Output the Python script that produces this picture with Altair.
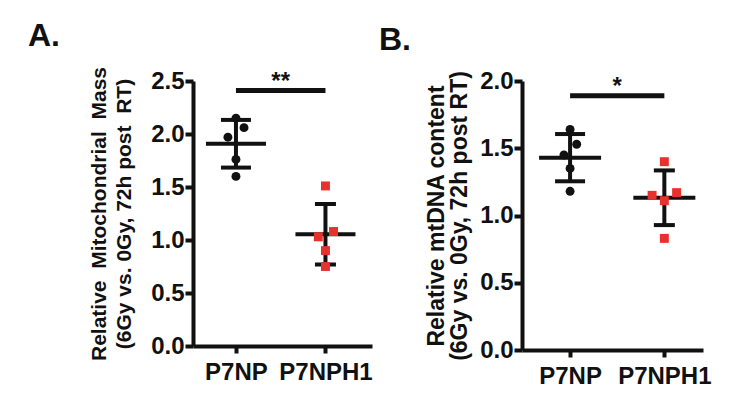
import altair as alt
import pandas as pd

groups = ["P7NP", "P7NPH1"]
group_idx = [1, 2]

# Panel A: relative mitochondrial mass
a_np = [2.15, 2.06, 1.97, 1.76, 1.60]
a_nph1 = [1.51, 1.03, 1.08, 0.90, 0.75]
a_np_jit = [0.0, 0.09, -0.09, 0.0, 0.0]
a_nph1_jit = [0.0, -0.08, 0.09, 0.0, 0.0]

# Panel B: relative mtDNA content
b_np = [1.64, 1.53, 1.45, 1.35, 1.18]
b_nph1 = [1.40, 1.15, 1.17, 1.11, 0.83]
b_np_jit = [0.0, 0.07, -0.065, 0.0, 0.0]
b_nph1_jit = [0.0, -0.13, 0.13, 0.0, 0.0]

a_sig = {"y": 2.41, "label": "**"}
b_sig = {"y": 1.89, "label": "*"}

FONT = "Liberation Sans"
BLACK = "#111111"
RED = "#e8302c"


def make_df(v1, v2, j1, j2):
    rows = []
    for v, j in zip(v1, j1):
        rows.append({"grp": groups[0], "g": group_idx[0], "v": v, "jit": j})
    for v, j in zip(v2, j2):
        rows.append({"grp": groups[1], "g": group_idx[1], "v": v, "jit": j})
    return pd.DataFrame(rows)


def panel(df, ymax, ytitle, xdomain, height, width, sig, letter, letter_x, letter_y,
          cap_sizes, mean_size, title_size, title_pad, title_lh):
    xscale = alt.Scale(domain=xdomain, nice=False, zero=False)
    yscale = alt.Scale(domain=[0, ymax], nice=False)
    xaxis = alt.Axis(values=group_idx, labelExpr="datum.value == 1 ? 'P7NP' : 'P7NPH1'",
                     title=None, grid=False, domainWidth=4, domainColor=BLACK,
                     tickWidth=4, tickSize=7, tickColor=BLACK, labelFont=FONT,
                     labelFontSize=24, labelFontWeight="bold", labelColor=BLACK,
                     labelPadding=7)
    yaxis = alt.Axis(values=[v / 2 for v in range(int(ymax * 2) + 1)], format=".1f",
                     title=ytitle, grid=False, domainWidth=4, domainColor=BLACK,
                     tickWidth=4, tickSize=8, tickColor=BLACK, labelFont=FONT,
                     labelFontSize=24, labelFontWeight="bold", labelColor=BLACK,
                     labelPadding=1, titleFont=FONT, titleFontSize=title_size,
                     titleFontWeight="bold", titleColor=BLACK, titleLineHeight=title_lh,
                     titlePadding=title_pad)

    base = alt.Chart(df)
    pts = base.transform_calculate(xp="datum.g + datum.jit").mark_point(
        filled=True, opacity=1, size=80
    ).encode(
        x=alt.X("xp:Q", scale=xscale, axis=xaxis),
        y=alt.Y("v:Q", scale=yscale, axis=yaxis),
        color=alt.Color("grp:N", scale=alt.Scale(domain=groups, range=[BLACK, RED]), legend=None),
        shape=alt.Shape("grp:N", scale=alt.Scale(domain=groups, range=["circle", "square"]), legend=None),
    )

    agg = base.transform_aggregate(
        m="mean(v)", s="stdev(v)", groupby=["g", "grp"]
    ).transform_calculate(lo="datum.m - datum.s", hi="datum.m + datum.s")

    vrule = agg.mark_rule(color=BLACK, strokeWidth=4).encode(
        x=alt.X("g:Q", scale=xscale), y=alt.Y("lo:Q", scale=yscale), y2="hi:Q")
    capsize = alt.Size("grp:N", scale=alt.Scale(domain=groups, range=cap_sizes), legend=None)
    cap_hi = agg.mark_tick(color=BLACK, thickness=4, orient="horizontal", opacity=1).encode(
        x=alt.X("g:Q", scale=xscale), y=alt.Y("hi:Q", scale=yscale), size=capsize)
    cap_lo = agg.mark_tick(color=BLACK, thickness=4, orient="horizontal", opacity=1).encode(
        x=alt.X("g:Q", scale=xscale), y=alt.Y("lo:Q", scale=yscale), size=capsize)
    mean = agg.mark_tick(color=BLACK, thickness=4, orient="horizontal", size=mean_size, opacity=1).encode(
        x=alt.X("g:Q", scale=xscale), y=alt.Y("m:Q", scale=yscale))

    sig_df = pd.DataFrame([{"x1": group_idx[0], "x2": group_idx[1], "xm": sum(group_idx) / 2,
                            "y": sig["y"], "label": sig["label"]}])
    sig_bar = alt.Chart(sig_df).mark_rule(color=BLACK, strokeWidth=5).encode(
        x=alt.X("x1:Q", scale=xscale), x2="x2:Q", y=alt.Y("y:Q", scale=yscale))
    sig_txt = alt.Chart(sig_df).mark_text(
        font=FONT, fontSize=24, fontWeight="bold", color=BLACK, baseline="alphabetic", dy=-2
    ).encode(x=alt.X("xm:Q", scale=xscale), y=alt.Y("y:Q", scale=yscale), text="label:N")

    let_df = pd.DataFrame([{"t": letter}])
    let_txt = alt.Chart(let_df).mark_text(
        font=FONT, fontSize=32, fontWeight="bold", color=BLACK, align="left", baseline="alphabetic"
    ).encode(x=alt.value(letter_x), y=alt.value(letter_y), text="t:N")

    return alt.layer(vrule, cap_hi, cap_lo, mean, pts, sig_bar, sig_txt, let_txt).properties(
        width=width, height=height)


df_a = make_df(a_np, a_nph1, a_np_jit, a_nph1_jit)
df_b = make_df(b_np, b_nph1, b_np_jit, b_nph1_jit)

pa = panel(df_a, 2.5, ["Relative\u00a0 Mitochondrial\u00a0 Mass", "(6Gy vs. 0Gy, 72h post\u00a0 RT)"],
           [0.52, 2.52], 265, 179, a_sig, "A.", -165, -35, [30, 21], 60, 21, 16, 25)
pb = panel(df_b, 2.0, ["Relative mtDNA content", "(6Gy vs. 0Gy, 72h post RT)"],
           [0.49, 2.41], 269, 181, b_sig, "B.", -143, -31, [32, 18], 62, 23, 8, 23)

chart = alt.hconcat(pa, pb, spacing=6).properties(
    padding={"left": 20, "top": 12, "right": 0, "bottom": 0},
    background="white",
).configure_view(stroke=None)

chart.save("out.html", embed_options={"renderer": "svg", "actions": False})
